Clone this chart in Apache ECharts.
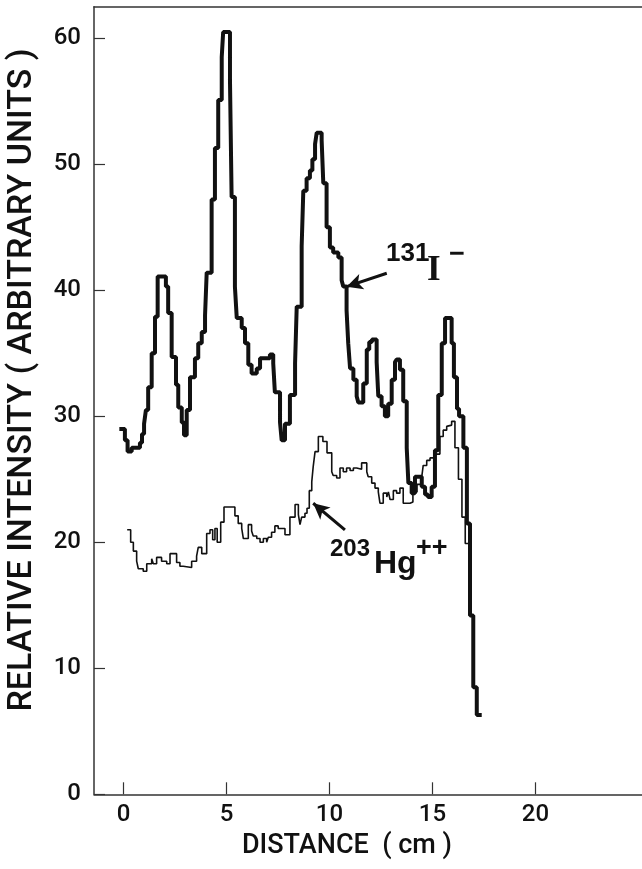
<!DOCTYPE html>
<html>
<head>
<meta charset="utf-8">
<script src="https://cdn.jsdelivr.net/npm/echarts@6/dist/echarts.min.js"></script>
<style>
html,body{margin:0;padding:0;background:#fff;}
#chart{width:642px;height:869px;}
</style>
</head>
<body>
<div id="chart"></div>
<script>
// ---- data (distance in cm, relative intensity) ----
const iodideX = [-0.20,0.07,0.20,0.40,0.80,0.90,1.00,1.09,1.20,1.37,1.53,1.66,2.06,2.17,2.34,2.55,2.66,2.83,2.94,3.07,3.23,3.47,3.63,3.80,3.96,4.04,4.28,4.44,4.60,4.77,4.84,5.17,5.25,5.41,5.50,5.74,5.90,6.06,6.22,6.47,6.63,7.11,7.27,7.35,7.60,7.68,7.84,8.08,8.33,8.41,8.65,8.73,8.89,9.05,9.17,9.30,9.38,9.62,9.70,9.86,10.02,10.18,10.43,10.59,10.67,10.83,10.91,11.00,11.16,11.32,11.40,11.64,11.81,11.93,12.06,12.29,12.37,12.53,12.69,12.85,13.02,13.18,13.26,13.42,13.58,13.75,13.83,13.99,14.15,14.48,14.64,14.78,14.96,15.12,15.28,15.45,15.61,15.93,16.04,16.19,16.29,16.50,16.67,16.82,16.98,17.15,17.39];
const iodideY = [29.0,28.1,27.2,27.5,27.9,28.6,29.4,30.5,32.3,35.0,37.9,41.1,40.3,38.2,34.7,32.5,30.7,29.5,28.5,30.5,33.1,34.6,35.8,36.7,38.0,41.4,47.2,51.3,55.1,58.5,60.5,56.7,47.4,40.3,37.8,37.0,35.8,34.1,33.4,33.8,34.6,34.9,34.2,31.9,29.5,28.1,29.4,31.7,34.2,38.7,43.5,47.9,48.9,49.5,50.4,51.6,52.5,51.9,48.5,45.0,43.4,43.0,42.6,40.8,40.3,38.4,35.8,33.8,32.9,31.6,31.1,32.6,35.3,35.9,36.1,34.3,31.6,30.8,30.0,31.0,32.9,34.3,34.5,33.7,31.2,27.5,24.7,23.9,25.2,24.4,23.8,23.6,24.4,27.3,31.7,35.8,37.8,35.8,33.1,30.6,30.0,27.5,21.5,14.2,8.5,6.3,6.3];
const mercuryX = [0.18,0.35,0.48,0.64,0.72,0.96,1.13,1.37,1.45,1.61,1.85,2.10,2.26,2.58,2.74,2.90,3.31,3.55,3.63,3.80,4.04,4.20,4.33,4.44,4.55,4.72,4.88,5.41,5.57,5.74,5.82,6.06,6.22,6.30,6.47,6.63,6.79,6.95,7.03,7.19,7.35,7.51,7.84,8.08,8.33,8.49,8.57,8.65,8.81,8.91,9.02,9.14,9.21,9.30,9.46,9.68,9.88,10.11,10.18,10.35,10.51,10.67,10.83,11.00,11.16,11.32,11.56,11.81,11.88,12.05,12.21,12.37,12.45,12.61,12.78,12.86,12.94,13.10,13.26,13.42,13.58,13.91,14.05,14.25,14.48,14.55,14.72,14.88,15.12,15.36,15.52,15.69,15.77,15.93,16.09,16.26,16.43,16.59,16.74];
const mercuryY = [21.0,20.0,19.3,18.5,17.9,17.7,18.3,18.7,18.3,18.8,18.5,18.3,19.1,18.4,18.1,18.0,18.5,18.9,19.6,19.1,20.7,21.0,20.2,21.1,20.0,21.6,22.8,22.1,21.5,21.1,20.3,21.4,20.9,20.5,20.3,20.0,20.3,20.0,20.4,20.8,21.3,21.1,20.6,22.0,23.0,22.2,21.4,22.0,22.3,22.7,24.1,24.8,26.0,27.2,28.4,28.0,27.1,25.6,25.3,25.1,25.9,25.6,25.9,25.7,25.9,25.8,26.3,25.6,25.2,24.7,24.3,24.0,23.1,23.9,23.6,24.0,23.4,24.1,23.9,24.3,23.1,23.2,24.0,24.6,25.2,26.1,26.5,26.7,27.0,28.4,28.9,29.2,29.3,29.6,27.5,25.0,22.0,19.9,19.9];
const xTicks = [0,5,10,15,20];
const yTicks = [0,10,20,30,40,50,60];
// arrows: [tail, head] in data coordinates
const iodideArrow = [[12.78,41.35],[10.83,40.29]];
const mercuryArrow = [[10.75,20.98],[9.21,23.10]];

const zip = (xs, ys) => xs.map((x, i) => [x, ys[i]]);
const INK = '#111';
const AXIS = '#333';
const FONT = 'Roboto';

const chart = echarts.init(document.getElementById('chart'), null, {renderer:'canvas'});
const xBase = {
  type:'value', min:-1.43, max:25.17,
  splitLine:{show:false}
};
chart.setOption({
  animation:false,
  backgroundColor:'#fff',
  grid:{left:94, right:0, top:6.8, bottom:74.7, containLabel:false},
  xAxis:[
    Object.assign({}, xBase, {
      position:'bottom',
      axisLine:{show:true, onZero:false, lineStyle:{color:AXIS, width:1.5}},
      axisTick:{show:true, inside:true, length:12, customValues:xTicks, lineStyle:{color:AXIS, width:1.2}},
      axisLabel:{show:true, customValues:xTicks, margin:9, color:INK, fontFamily:FONT, fontWeight:500, fontSize:24}
    }),
    Object.assign({}, xBase, {
      position:'top',
      axisLine:{show:true, onZero:false, lineStyle:{color:AXIS, width:1.5}},
      axisTick:{show:false}, axisLabel:{show:false}
    })
  ],
  yAxis:{
    type:'value', min:0, max:62.5,
    splitLine:{show:false},
    axisLine:{show:true, onZero:false, lineStyle:{color:AXIS, width:1.5}},
    axisTick:{show:true, inside:true, length:11, customValues:yTicks, lineStyle:{color:AXIS, width:1.2}},
    axisLabel:{show:true, customValues:yTicks, margin:13, color:INK, fontFamily:FONT, fontWeight:500, fontSize:24}
  },
  series:[
    {
      name:'203Hg++', type:'line', step:'end', data:zip(mercuryX, mercuryY),
      showSymbol:false, symbol:'none', lineStyle:{color:INK, width:1.6}, z:2,
      markLine:{
        silent:true, symbol:['none','arrow'], symbolSize:[12,16],
        label:{show:false}, lineStyle:{color:INK, width:3, type:'solid'},
        data:[[{coord:mercuryArrow[0]},{coord:mercuryArrow[1]}]]
      }
    },
    {
      name:'131I-', type:'line', step:'end', data:zip(iodideX, iodideY),
      showSymbol:false, symbol:'none', lineStyle:{color:INK, width:4}, z:3,
      markLine:{
        silent:true, symbol:['none','arrow'], symbolSize:[12,16],
        label:{show:false}, lineStyle:{color:INK, width:3, type:'solid'},
        data:[[{coord:iodideArrow[0]},{coord:iodideArrow[1]}]]
      }
    }
  ],
  graphic:[
    {type:'text', x:347, y:846, style:{text:'DISTANCE  ( cm )', font:'500 27px Roboto', fill:INK, textAlign:'center', textVerticalAlign:'middle'}},
    {type:'text', x:22, y:380, rotation:Math.PI/2, style:{text:'RELATIVE INTENSITY ( ARBITRARY UNITS )', font:'500 34px Roboto', fill:INK, textAlign:'center', textVerticalAlign:'middle'}},
    {type:'text', x:386, y:254, style:{text:'131', font:'bold 26px "Liberation Sans"', fill:INK, textAlign:'left', textVerticalAlign:'middle'}},
    {type:'text', x:427, y:271, style:{text:'I', font:'bold 35px "Liberation Serif"', fill:INK, textAlign:'left', textVerticalAlign:'middle'}},
    {type:'text', x:449, y:255, style:{text:'\u2212', font:'bold 27px "Liberation Sans"', fill:INK, textAlign:'left', textVerticalAlign:'middle'}},
    {type:'text', x:330, y:549, style:{text:'203', font:'bold 24px "Liberation Sans"', fill:INK, textAlign:'left', textVerticalAlign:'middle'}},
    {type:'text', x:374, y:564, style:{text:'Hg', font:'bold 32px "Liberation Sans"', fill:INK, textAlign:'left', textVerticalAlign:'middle'}},
    {type:'text', x:416, y:549, style:{text:'++', font:'bold 27px "Liberation Sans"', fill:INK, textAlign:'left', textVerticalAlign:'middle'}}
  ]
});
</script>
</body>
</html>
